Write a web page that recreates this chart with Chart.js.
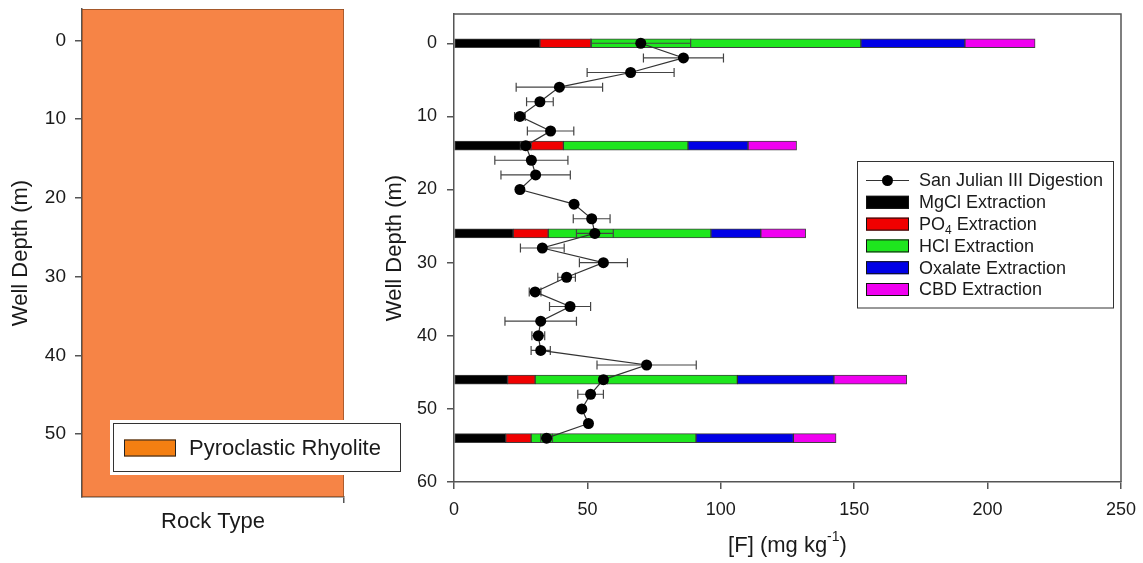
<!DOCTYPE html>
<html>
<head>
<meta charset="utf-8">
<title>San Julian III – fluoride fractions with depth</title>
<script src="https://cdn.jsdelivr.net/npm/chart.js@4/dist/chart.umd.min.js"></script>
<style>
  html, body { margin: 0; padding: 0; background: #fff; }
  #wrap { position: relative; width: 1143px; height: 563px; overflow: hidden; }
  #rockCanvas { position: absolute; left: 0; top: 0; }
  #fluorideCanvas { position: absolute; left: 370px; top: 0; }
</style>
</head>
<body>
<div id="wrap">
  <canvas id="rockCanvas" width="420" height="563"></canvas>
  <canvas id="fluorideCanvas" width="773" height="563"></canvas>
</div>
<script>
// ── Data ────────────────────────────────────────────

const ROCK_DEPTH_TICKS = [0, 10, 20, 30, 40, 50];
const DEPTH_TICKS = [0, 10, 20, 30, 40, 50, 60];
const F_TICKS = [0, 50, 100, 150, 200, 250];

// lithology column (depth interval shown for each unit)
const ROCK_TYPES = ['Pyroclastic Rhyolite'];
const ROCK_INTERVALS = [[-4, 58]];

// total digestion, mean and error per sample depth
const DIGEST_DEPTHS = [0, 2, 4, 6, 8, 10, 12, 14, 16, 18, 20, 22, 24, 26,
                       28, 30, 32, 34, 36, 38, 40, 42, 44, 46, 48, 50, 52, 54];
const DIGEST_F = [70.0, 86.0, 66.2, 39.5, 32.2, 24.7, 36.2, 26.9, 29.0, 30.6, 24.7, 45.0, 51.6, 52.8,
                  33.1, 56.0, 42.2, 30.4, 43.5, 32.5, 31.6, 32.5, 72.2, 56.0, 51.2, 47.9, 50.4, 34.7];
const DIGEST_ERR = [18.7, 15.0, 16.3, 16.2, 5.0, 2.0, 8.7, 2.0, 13.7, 13.0, 0, 0, 6.9, 6.9,
                    8.2, 9.0, 3.3, 2.2, 7.7, 13.4, 2.4, 3.6, 18.6, 1.5, 4.8, 0, 0, 2.2];

// sequential extraction fractions (mg/kg)
const EXTRACT_DEPTHS = [0, 14, 26, 46, 54];
const MGCL    = [32.2, 25.5, 22.2, 20.1, 19.4];
const PO4     = [19.2, 15.5, 13.1, 10.3,  9.5];
const HCL     = [101.1, 46.7, 61.0, 75.8, 61.8];
const OXALATE = [39.0, 22.5, 18.7, 36.2, 36.5];
const CBD     = [26.3, 18.2, 16.8, 27.3, 16.0];

// ── Styles ──────────────────────────────────────────

const FONT_FAMILY = "Arial, 'Liberation Sans', sans-serif";
const TEXT_COLOR = '#1a1a1a';
const AXIS_COLOR = '#555';
const ROCK_FILL = '#F68446';
const ROCK_SWATCH = '#F47F12';

const EXTRACTIONS = [
  { label: 'MgCl Extraction',    values: MGCL,    color: '#000000' },
  { label: 'PO_{4} Extraction',  values: PO4,     color: '#F00000' },
  { label: 'HCl Extraction',     values: HCL,     color: '#1EE61E' },
  { label: 'Oxalate Extraction', values: OXALATE, color: '#0000E6' },
  { label: 'CBD Extraction',     values: CBD,     color: '#F000F0' },
];

// ── Text helpers ────────────────────────────────────

// splits "PO_{4}" / "kg^{-1}" into plain, sub and super parts
function parseRich(str) {
  const parts = [];
  const re = /([_^])\{([^}]*)\}/g;
  let last = 0, m;
  while ((m = re.exec(str))) {
    if (m.index > last) parts.push({ text: str.slice(last, m.index), shift: 0 });
    parts.push({ text: m[2], shift: m[1] === '_' ? 1 : -1 });
    last = re.lastIndex;
  }
  if (last < str.length) parts.push({ text: str.slice(last), shift: 0 });
  return parts;
}

function drawRich(ctx, str, x, y, size, align = 'left', rotate = 0) {
  const parts = parseRich(str);
  const fontFor = (p) => `${p.shift ? Math.round(size * 0.65) : size}px ${FONT_FAMILY}`;
  let total = 0;
  parts.forEach(p => { ctx.font = fontFor(p); p.w = ctx.measureText(p.text).width; total += p.w; });

  ctx.save();
  ctx.translate(x, y);
  ctx.rotate(rotate);
  ctx.fillStyle = TEXT_COLOR;
  ctx.textBaseline = 'middle';
  ctx.textAlign = 'left';
  let cx = align === 'center' ? -total / 2 : 0;
  parts.forEach(p => {
    ctx.font = fontFor(p);
    const dy = p.shift === 1 ? size * 0.32 : p.shift === -1 ? -size * 0.38 : 0;
    ctx.fillText(p.text, cx, dy);
    cx += p.w;
  });
  ctx.restore();
}

// keep the plot area where the layout padding puts it
function fixDepthAxis(width) {
  return (s) => { s.width = width; s.paddingTop = 0; s.paddingBottom = 0; };
}
function fixValueAxis(height) {
  return (s) => { s.height = height; s.paddingLeft = 0; s.paddingRight = 0; };
}

// ── Plugins ─────────────────────────────────────────

const rockLegend = {
  id: 'rockLegend',
  afterDraw(chart) {
    const { ctx } = chart;
    ctx.save();
    ctx.fillStyle = '#fff';
    ctx.fillRect(110, 420, 294, 55);
    ctx.strokeStyle = '#333';
    ctx.lineWidth = 1;
    ctx.strokeRect(113.5, 423.5, 287, 48);
    ROCK_TYPES.forEach((name, i) => {
      const cy = 448 + i * 26;
      ctx.fillStyle = ROCK_SWATCH;
      ctx.fillRect(124, cy - 8.5, 52, 17);
      ctx.strokeStyle = '#222';
      ctx.strokeRect(124.5, cy - 8, 51, 16);
      drawRich(ctx, name, 189, cy + 1, 22);
    });
    ctx.restore();
  },
};

const errorBars = {
  id: 'errorBars',
  beforeDatasetDraw(chart, args) {
    const ds = chart.data.datasets[args.index];
    if (!ds.errors) return;
    const { ctx, scales: { x, y } } = chart;
    ctx.save();
    ctx.strokeStyle = '#444';
    ctx.lineWidth = 1.2;
    ds.data.forEach((p, i) => {
      const err = ds.errors[i];
      if (!err) return;
      const py = y.getPixelForValue(p.y);
      const x0 = x.getPixelForValue(p.x - err);
      const x1 = x.getPixelForValue(p.x + err);
      ctx.beginPath();
      ctx.moveTo(x0, py); ctx.lineTo(x1, py);
      ctx.moveTo(x0, py - 4.5); ctx.lineTo(x0, py + 4.5);
      ctx.moveTo(x1, py - 4.5); ctx.lineTo(x1, py + 4.5);
      ctx.stroke();
    });
    ctx.restore();
  },
};

const plotFrame = {
  id: 'plotFrame',
  afterDraw(chart) {
    const { ctx, chartArea: a } = chart;
    ctx.save();
    ctx.strokeStyle = AXIS_COLOR;
    ctx.lineWidth = 1.5;
    ctx.beginPath();
    ctx.moveTo(a.left, a.top);
    ctx.lineTo(a.right, a.top);
    ctx.lineTo(a.right, a.bottom);
    ctx.stroke();
    ctx.restore();

    // x title with superscript unit
    drawRich(ctx, chart.options.xTitle, (a.left + a.right) / 2, 546, 22, 'center');
  },
};

const fluorideLegend = {
  id: 'fluorideLegend',
  afterDraw(chart) {
    const { ctx } = chart;
    const left = 487.5, top = 161.5, rowH = 21.8, firstRow = 180.5;
    ctx.save();
    ctx.strokeStyle = '#333';
    ctx.lineWidth = 1;
    ctx.strokeRect(left, top, 256, 146.5);

    chart.data.datasets.forEach((ds, i) => {
      const cy = firstRow + i * rowH;
      if (ds.type === 'line') {
        ctx.strokeStyle = '#333';
        ctx.lineWidth = 1.2;
        ctx.beginPath();
        ctx.moveTo(496, cy); ctx.lineTo(539, cy);
        ctx.stroke();
        ctx.fillStyle = '#000';
        ctx.beginPath();
        ctx.arc(517.5, cy, 5.5, 0, Math.PI * 2);
        ctx.fill();
      } else {
        ctx.fillStyle = ds.backgroundColor;
        ctx.fillRect(496, cy - 6.5, 43, 13);
        ctx.strokeStyle = '#111';
        ctx.lineWidth = 1;
        ctx.strokeRect(496.5, cy - 6, 42, 12);
      }
      drawRich(ctx, ds.label, 549, cy + 1, 18);
    });
    ctx.restore();
  },
};

// ── Rock type column ────────────────────────────────

new Chart(document.getElementById('rockCanvas'), {
  type: 'bar',
  data: {
    labels: ROCK_TYPES,
    datasets: [{
      label: ROCK_TYPES[0],
      data: ROCK_INTERVALS,
      backgroundColor: ROCK_FILL,
      borderColor: '#8a4a22',
      borderWidth: 1,
      borderSkipped: false,
      barPercentage: 1,
      categoryPercentage: 1,
    }],
  },
  options: {
    responsive: false,
    animation: false,
    layout: { padding: { top: 9, right: 76, left: 0, bottom: 0 } },
    plugins: { legend: { display: false }, tooltip: { enabled: false } },
    scales: {
      x: {
        grid: {
          drawOnChartArea: false,
          tickLength: 6,
          lineWidth: 1.5,
          color: (c) => (c.index === 0 ? 'rgba(0,0,0,0)' : AXIS_COLOR),
        },
        border: { color: AXIS_COLOR, width: 1.5 },
        ticks: { display: false },
        title: {
          display: true,
          text: 'Rock Type',
          color: TEXT_COLOR,
          font: { family: FONT_FAMILY, size: 22 },
          padding: { top: 0, bottom: 28 },
        },
        afterFit: fixValueAxis(66),
      },
      y: {
        reverse: true,
        min: -4,
        max: 58,
        afterBuildTicks: (s) => { s.ticks = ROCK_DEPTH_TICKS.map(v => ({ value: v })); },
        grid: { drawOnChartArea: false, tickLength: 7, color: AXIS_COLOR, lineWidth: 1.5 },
        border: { color: AXIS_COLOR, width: 1.5 },
        ticks: { color: TEXT_COLOR, padding: 9, font: { family: FONT_FAMILY, size: 19 } },
        title: {
          display: true,
          text: 'Well Depth (m)',
          color: TEXT_COLOR,
          font: { family: FONT_FAMILY, size: 22 },
          padding: { top: 8, bottom: 0 },
        },
        afterFit: fixDepthAxis(82),
      },
    },
  },
  plugins: [rockLegend],
});

// ── Fluoride fractions ──────────────────────────────

const extractionSets = EXTRACTIONS.map(e => ({
  type: 'bar',
  label: e.label,
  data: EXTRACT_DEPTHS.map((d, i) => ({ x: e.values[i], y: d })),
  backgroundColor: e.color,
  borderColor: 'rgba(0,0,0,0.75)',
  borderWidth: 1,
  borderSkipped: false,
  barThickness: 9,
  order: 1,
}));

new Chart(document.getElementById('fluorideCanvas'), {
  type: 'bar',
  data: {
    datasets: [
      {
        type: 'line',
        label: 'San Julian III Digestion',
        indexAxis: 'y',
        data: DIGEST_DEPTHS.map((d, i) => ({ x: DIGEST_F[i], y: d })),
        errors: DIGEST_ERR,
        borderColor: '#333',
        borderWidth: 1.2,
        pointRadius: 5.5,
        pointBackgroundColor: '#000',
        pointBorderWidth: 0,
        fill: false,
        tension: 0,
        order: 0,
      },
      ...extractionSets,
    ],
  },
  options: {
    responsive: false,
    animation: false,
    indexAxis: 'y',
    xTitle: '[F] (mg kg^{-1})',
    layout: { padding: { top: 14, right: 22, left: 0, bottom: 0 } },
    plugins: { legend: { display: false }, tooltip: { enabled: false } },
    scales: {
      x: {
        type: 'linear',
        stacked: true,
        min: 0,
        max: 250,
        afterBuildTicks: (s) => { s.ticks = F_TICKS.map(v => ({ value: v })); },
        grid: { drawOnChartArea: false, tickLength: 7, color: AXIS_COLOR, lineWidth: 1.5 },
        border: { color: AXIS_COLOR, width: 1.5 },
        ticks: { color: TEXT_COLOR, padding: 10, font: { family: FONT_FAMILY, size: 18 } },
        afterFit: fixValueAxis(81),
      },
      y: {
        type: 'linear',
        stacked: true,
        reverse: true,
        offset: false,
        min: -4,
        max: 60,
        afterBuildTicks: (s) => { s.ticks = DEPTH_TICKS.map(v => ({ value: v })); },
        grid: { offset: false, drawOnChartArea: false, tickLength: 7, color: AXIS_COLOR, lineWidth: 1.5 },
        border: { color: AXIS_COLOR, width: 1.5 },
        ticks: { color: TEXT_COLOR, padding: 10, font: { family: FONT_FAMILY, size: 18 } },
        title: {
          display: true,
          text: 'Well Depth (m)',
          color: TEXT_COLOR,
          font: { family: FONT_FAMILY, size: 22 },
          padding: { top: 12, bottom: 0 },
        },
        afterFit: fixDepthAxis(84),
      },
    },
  },
  plugins: [errorBars, plotFrame, fluorideLegend],
});
</script>
</body>
</html>
